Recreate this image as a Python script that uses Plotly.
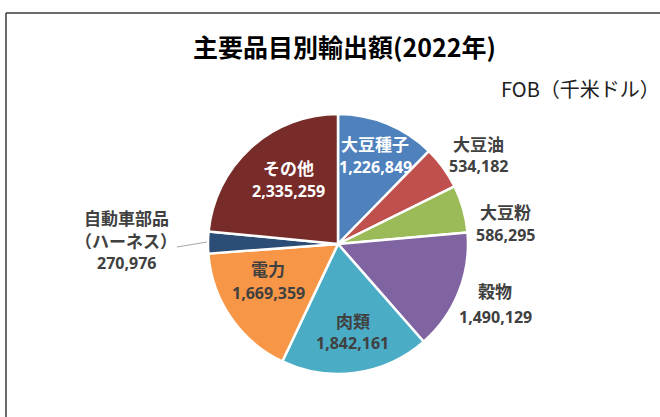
import plotly.graph_objects as go

W, H = 660, 417

categories = ["大豆種子", "大豆油", "大豆粉", "穀物", "肉類", "電力", "自動車部品（ハーネス）", "その他"]
label_lines = [["大豆種子"], ["大豆油"], ["大豆粉"], ["穀物"], ["肉類"], ["電力"],
               ["自動車部品", "（ハーネス）"], ["その他"]]
values = [1226849, 534182, 586295, 1490129, 1842161, 1669359, 270976, 2335259]
colors = ["#4F81BD", "#C0504D", "#9BBB59", "#8064A2", "#4BACC6", "#F79646", "#2C4D75", "#772C2A"]
value_labels = [f"{v:,}" for v in values]

# label placement: (x centre, name line y's, value y) in pixels, and text colours
label_pos = [(375, [143], 167), (479, [143], 166), (505, [212], 235), (495, [290], 317),
             (353, [320], 343), (268, [268], 293), (126, [217, 240], 263), (288, [168], 191)]
label_col = ["white", "#404040", "#404040", "#404040", "#404040", "#404040", "#404040", "white"]

cx, cy, r = 338, 244, 130


def px(x):
    return x / W


def py(y):
    return 1 - y / H


fig = go.Figure(go.Pie(
    labels=categories,
    values=values,
    sort=False,
    direction="clockwise",
    rotation=0,
    marker=dict(colors=colors, line=dict(color="white", width=2.5)),
    textinfo="none",
    hoverinfo="label+value",
    showlegend=False,
    domain=dict(x=[px(cx - r), px(cx + r)], y=[py(cy + r), py(cy - r)]),
))

annotations = []
for lines, val, (x, yns, yv), col in zip(label_lines, value_labels, label_pos, label_col):
    for s, yn in zip(lines, yns):
        annotations.append(dict(
            x=px(x), y=py(yn), xref="paper", yref="paper", showarrow=False,
            text=f"<b>{s}</b>",
            font=dict(family="Noto Sans CJK JP", size=17, color=col),
            align="center", xanchor="center", yanchor="middle",
        ))
    annotations.append(dict(
        x=px(x), y=py(yv), xref="paper", yref="paper", showarrow=False,
        text=f"<b>{val}</b>",
        font=dict(family="Noto Sans", size=16, color=col),
        align="center", xanchor="center", yanchor="middle",
    ))

annotations.append(dict(
    x=px(344), y=py(46), xref="paper", yref="paper", showarrow=False,
    text="<b>主要品目別輸出額(2022年)</b>",
    font=dict(family="Noto Sans CJK JP", size=25, color="black"),
    xanchor="center", yanchor="middle",
))
annotations.append(dict(
    x=px(580), y=py(88), xref="paper", yref="paper", showarrow=False,
    text="FOB（千米ドル）",
    font=dict(family="Noto Sans CJK JP", size=20, color="#202020"),
    xanchor="center", yanchor="middle",
))

shapes = [
    dict(type="line", xref="paper", yref="paper", x0=px(6), y0=py(13), x1=px(700), y1=py(13),
         line=dict(color="#3a3a3a", width=1.5)),
    dict(type="line", xref="paper", yref="paper", x0=px(6), y0=py(13), x1=px(6), y1=py(440),
         line=dict(color="#3a3a3a", width=1.5)),
    dict(type="line", xref="paper", yref="paper", x0=px(177), y0=py(247), x1=px(207), y1=py(242),
         line=dict(color="#A6A6A6", width=1)),
]

fig.update_layout(
    width=W, height=H,
    margin=dict(l=0, r=0, t=0, b=0),
    paper_bgcolor="white",
    plot_bgcolor="white",
    annotations=annotations,
    shapes=shapes,
)

fig.write_html("out.html", config={"displayModeBar": False},
               post_script="document.body.style.margin='0';")
